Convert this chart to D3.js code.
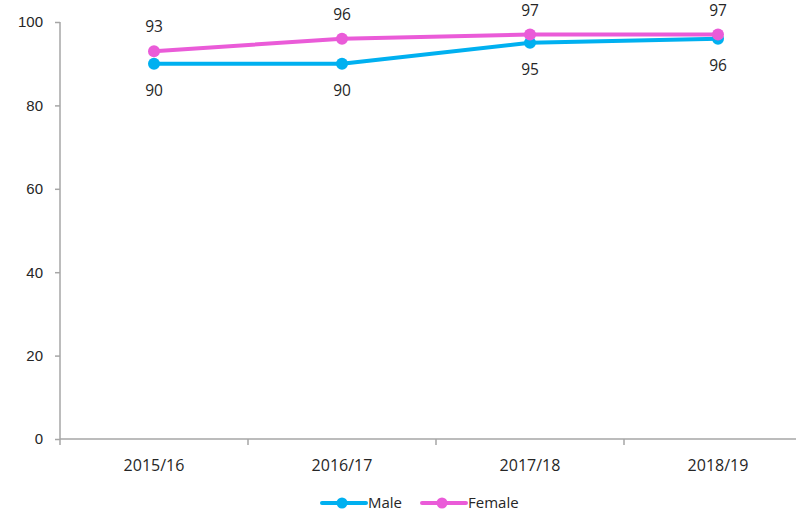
<!DOCTYPE html>
<html>
<head>
<meta charset="utf-8">
<script src="https://cdn.jsdelivr.net/npm/d3@7"></script>
<style>
  body { margin: 0; background: #fff; }
  svg { display: block; font-family: "Open Sans", "Liberation Sans", sans-serif; }
  .tick text { fill: #262626; font-size: 15px; }
  .label { fill: #262626; font-size: 15.5px; }
</style>
</head>
<body>
<svg id="chart"></svg>
<script>
// chart data
var years = ["2015/16", "2016/17", "2017/18", "2018/19"];
var male = [90, 90, 95, 96];
var female = [93, 96, 97, 97];
var yTicks = [0, 20, 40, 60, 80, 100];

var seriesNames = ["Male", "Female"];
var seriesColors = ["#00B0F0", "#EA5BD8"];

function draw() {
    var width = 796, height = 511;
    var svg = d3.select("#chart").attr("width", width).attr("height", height);

    // category band width runs past the right edge like the original
    var x = d3.scaleBand().domain(years).range([60, 812]);
    var y = d3.scaleLinear().domain([0, 100]).range([439, 22]);

    // y axis
    var yAxis = svg.append("g")
        .attr("transform", "translate(60,0)")
        .call(d3.axisLeft(y).tickValues(yTicks).tickSize(5).tickPadding(12));
    yAxis.selectAll("path, line").attr("stroke", "#A6A6A6").attr("stroke-width", 1.5);
    yAxis.select(".domain").attr("d", "M0," + y(100) + "V" + y(0));

    // x axis with ticks between categories
    var xAxis = svg.append("g").attr("transform", "translate(0," + y(0) + ")");
    xAxis.append("line")
        .attr("x1", 60).attr("x2", 812)
        .attr("stroke", "#A6A6A6").attr("stroke-width", 1.5);
    var bounds = years.map(function(d) { return x(d); }).concat([x(years[3]) + x.bandwidth()]);
    xAxis.selectAll(".xt")
        .data(bounds)
        .enter().append("line")
        .attr("x1", function(d) { return d; }).attr("x2", function(d) { return d; })
        .attr("y1", 0).attr("y2", 6)
        .attr("stroke", "#A6A6A6").attr("stroke-width", 1.5);
    xAxis.selectAll(".xl")
        .data(years)
        .enter().append("text")
        .attr("class", "label")
        .attr("x", function(d) { return x(d) + x.bandwidth() / 2; })
        .attr("y", 32)
        .attr("text-anchor", "middle")
        .style("font-size", "16px")
        .text(function(d) { return d; });

    var cx = function(d, i) { return x(years[i]) + x.bandwidth() / 2; };
    var line = d3.line()
        .x(function(d, i) { return cx(d, i); })
        .y(function(d) { return y(d); });

    var all = [male, female];
    all.forEach(function(vals, s) {
        var g = svg.append("g");
        g.append("path")
            .datum(vals)
            .attr("d", line)
            .attr("fill", "none")
            .attr("stroke", seriesColors[s])
            .attr("stroke-width", 4)
            .attr("stroke-linejoin", "round");
        g.selectAll("circle")
            .data(vals)
            .enter().append("circle")
            .attr("cx", cx)
            .attr("cy", function(d) { return y(d); })
            .attr("r", 6)
            .attr("fill", seriesColors[s]);
        // male labels below, female labels above
        g.selectAll("text")
            .data(vals)
            .enter().append("text")
            .attr("class", "label")
            .attr("x", cx)
            .attr("y", function(d) { return s === 0 ? y(d) + 32 : y(d) - 19; })
            .attr("text-anchor", "middle")
            .text(function(d) { return d; });
    });

    // legend
    var legend = svg.append("g").attr("transform", "translate(322,503)");
    var lx = [0, 100];
    seriesNames.forEach(function(name, s) {
        var item = legend.append("g").attr("transform", "translate(" + lx[s] + ",0)");
        item.append("line")
            .attr("x1", 0).attr("x2", 44)
            .attr("stroke", seriesColors[s]).attr("stroke-width", 4)
            .attr("stroke-linecap", "round");
        item.append("circle").attr("cx", 20).attr("r", 5.5).attr("fill", seriesColors[s]);
        item.append("text")
            .attr("class", "label")
            .attr("x", 46).attr("y", 5)
            .style("font-size", "15px")
            .text(name);
    });
}

window.addEventListener("load", function() {
    draw();
});
</script>
</body>
</html>
